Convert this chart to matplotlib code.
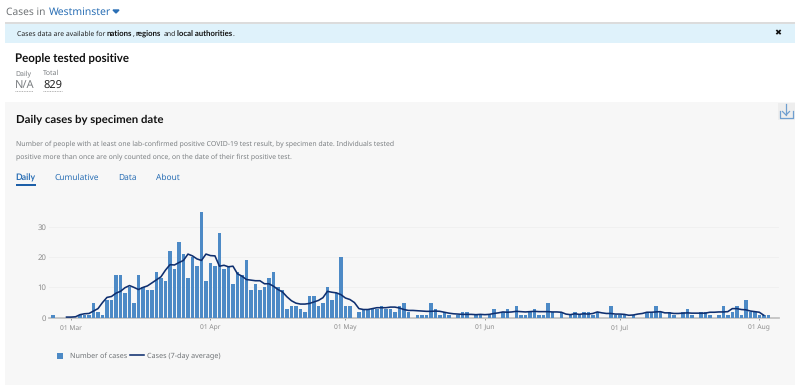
import matplotlib
matplotlib.use("Agg")
import matplotlib.pyplot as plt
import matplotlib.dates as mdates
from matplotlib.patches import Rectangle
import pandas as pd

plt.rcParams['font.family'] = ['Noto Sans', 'DejaVu Sans']
plt.rcParams['text.hinting'] = 'none'

start_date = "2020-02-26"
daily_cases = [
    1, 0, 0, 0,
    0, 0, 1, 1, 1, 5, 2, 1, 6, 6, 14, 14, 8, 10, 5, 14, 10, 9, 9, 15, 13, 12, 22, 16, 25, 21, 13, 20, 17, 35, 12,
    18, 17, 28, 16, 17, 11, 15, 14, 19, 9, 11, 9, 10, 13, 15, 10, 9, 3, 4, 4, 3, 2, 7, 7, 4, 5, 10, 6, 8, 20,
    4, 4, 0, 2, 3, 3, 3, 3, 4, 3, 3, 2, 4, 5, 2, 0, 1, 1, 1, 5, 3, 1, 2, 1, 0, 1, 2, 2, 0, 1, 1,
    0, 1, 3, 0, 2, 3, 0, 4, 1, 1, 2, 3, 1, 1, 5, 2, 0, 2, 0, 1, 2, 1, 2, 2, 1, 2, 0, 0, 4, 1,
    1, 1, 0, 1, 0, 0, 2, 2, 4, 2, 0, 2, 1, 0, 2, 3, 1, 0, 2, 2, 1, 0, 1, 4, 1, 2, 4, 1, 6, 2, 2,
    1, 1, 1,
]
avg_start_date = "2020-02-29"
avg_cases = [
    0.2,
    0.2, 0.3, 1.0, 1.3, 1.4, 2.2, 3.0, 5.0, 6.7, 7.0, 8.1, 8.7, 9.9, 10.6, 10.0, 9.3, 10.0, 10.5, 11.5, 12.5, 13.5,
    15.7, 17.5, 17.4, 18.2, 18.9, 21.0, 20.4, 19.4, 18.9, 21.0,
    20.5, 20.4, 17.0, 17.3, 16.8, 17.0, 14.5, 13.7, 12.6, 12.4, 12.2, 12.2, 11.2, 11.2, 10.4, 9.3, 8.5, 6.9, 5.6,
    4.8, 4.5, 4.5, 4.7, 5.2, 5.7, 6.6, 8.7, 8.4, 8.2, 7.6,
    6.5, 6.0, 5.0, 3.0, 2.7, 2.7, 3.0, 3.3, 3.3, 3.3, 3.5, 3.5, 3.2, 2.7, 2.4, 2.4, 2.3, 2.2, 2.1, 2.1, 2.2, 2.1,
    1.8, 1.5, 1.3, 1.2, 1.1, 1.1, 1.1, 1.0, 1.1,
    1.0, 1.1, 1.4, 1.6, 1.9, 1.8, 1.9, 2.1, 2.0, 1.9, 2.0, 2.1, 2.0, 2.0, 2.0, 1.9, 1.9, 1.8, 1.2, 1.0, 1.3, 1.1,
    1.3, 1.2, 1.4, 1.9, 1.6, 1.4, 1.4, 1.2,
    1.2, 1.1, 0.8, 0.9, 1.2, 1.4, 1.8, 1.8, 1.9, 2.0, 1.6, 1.6, 1.4, 1.4, 1.5, 1.6, 1.5, 1.5, 1.5, 1.5, 1.8, 1.8,
    1.9, 1.9, 2.0, 3.0, 3.0, 2.7, 2.6, 2.2, 2.0,
    1.8, 0.8,
]
y_ticks = [0, 10, 20, 30]
x_tick_dates = ["2020-03-01", "2020-04-01", "2020-05-01", "2020-06-01", "2020-07-01", "2020-08-01"]
x_tick_labels = ["01 Mar", "01 Apr", "01 May", "01 Jun", "01 Jul", "01 Aug"]
bar_label = "Number of cases"
line_label = "Cases (7-day average)"

dates = pd.date_range(start_date, periods=len(daily_cases))
avg_dates = pd.date_range(avg_start_date, periods=len(avg_cases))

W, H = 800, 390
fig = plt.figure(figsize=(8, 3.9), dpi=100, facecolor="white")

bg = fig.add_axes([0, 0, 1, 1], zorder=0)
bg.set_xlim(0, W)
bg.set_ylim(H, 0)
bg.axis("off")

LINK = "#2a6fb5"
GREY = "#7b7f82"
DARK = "#111111"

bg.add_patch(Rectangle((5, 102), 790, 283, fc="#f7f7f7", ec="none"))
bg.add_patch(Rectangle((5, 23), 790, 20, fc="#dff2fb", ec="none"))
bg.add_patch(Rectangle((5, 22), 790, 1.5, fc="#dcdcdc", ec="none"))
bg.add_patch(Rectangle((778, 103), 17, 17, fc="#eeeeee", ec="none"))

renderer = fig.canvas.get_renderer()


def t(x0, x1, y, s, color=DARK, bold=False, size=None):
    """Text from x0 on baseline y. Font size is given, or fitted so it ends at x1 (pixels)."""
    kw = {"family": ["Lato", "DejaVu Sans"], "fontweight": "bold"} if bold else {}
    txt = bg.text(x0, y, s, fontsize=size or 8, color=color, va="baseline", ha="left", **kw)
    if size is None:
        for _ in range(3):
            width = txt.get_window_extent(renderer).width
            txt.set_fontsize(txt.get_fontsize() * (x1 - x0) / width)
    return txt


head = t(5.5, 45, 15, "Cases in", "#6f7376").get_fontsize()
t(49, None, 15, "Westminster", LINK, size=head * 1.02)
bg.fill([113, 119, 116], [10, 10, 13], color=LINK)

ban = t(17, 105.5, 35.7, "Cases data are available for", "#222222").get_fontsize()
ban_b = t(177, 232, 36.6, "local authorities", bold=True).get_fontsize()
t(107, None, 36.6, "nations", bold=True, size=ban_b)
t(132.3, None, 35.7, ",", size=ban)
t(136, None, 36.6, "regions", bold=True, size=ban_b)
t(164, None, 35.5, "and", "#222222", size=ban)
t(232.6, None, 35.7, ".", size=ban)
bg.text(778, 33, "\u2716", fontsize=6, color=DARK, family=["DejaVu Sans"], ha="center", va="center")

t(15, 130, 62, "People tested positive", bold=True)
small = t(15, 31, 75, "Daily", GREY).get_fontsize()
t(43, None, 75, "Total", GREY, size=small)
big = t(43, 62, 88, "829", "#222222").get_fontsize()
t(15, None, 88, "N/A", GREY, size=big)
bg.plot([15, 33], [90.5, 90.5], color="#9a9a9a", lw=0.6, ls=(0, (1, 1)))
bg.plot([43, 62], [90.5, 90.5], color="#9a9a9a", lw=0.6, ls=(0, (1, 1)))

t(15.5, 163.5, 123.3, "Daily cases by specimen date", bold=True)
sub = t(15.5, 394, 145, "Number of people with at least one lab-confirmed positive COVID-19 test result, by specimen date. Individuals tested", GREY).get_fontsize()
t(15.5, None, 158.3, "positive more than once are only counted once, on the date of their first positive test.", GREY, size=sub)

tab = t(54.5, 99, 180.3, "Cumulative", LINK).get_fontsize()
t(15.5, 35.5, 180.3, "Daily", LINK, bold=True)
t(118, None, 181.3, "Data", LINK, size=tab)
t(156, None, 180.3, "About", LINK, size=tab)
bg.add_patch(Rectangle((15.5, 183.5), 20.5, 2, fc="#1d5fa8", ec="none"))

ICON = "#6f9fd0"
bg.plot([779.5, 779.5, 792.5, 792.5], [111, 118, 118, 111], color=ICON, lw=0.9)
bg.plot([786, 786], [104, 115], color=ICON, lw=0.9)
bg.plot([782.5, 786, 789.5], [111.5, 115, 111.5], color=ICON, lw=0.9)

PX_LEFT, PX_RIGHT, PX_TOP, PX_BOTTOM = 49, 779, 205, 317.7
PX_PER_DAY = (759.3 - 71.0) / 153
PX_PER_UNIT = 3.03
mar1 = mdates.date2num(pd.Timestamp("2020-03-01"))
AX_W = PX_RIGHT - PX_LEFT
AX_H = PX_BOTTOM - PX_TOP

ax = fig.add_axes([PX_LEFT / W, 1 - PX_BOTTOM / H, AX_W / W, AX_H / H], zorder=1)
ax.patch.set_alpha(0)
ax.set_xlim(mar1 + (PX_LEFT - 71.0) / PX_PER_DAY, mar1 + (PX_RIGHT - 71.0) / PX_PER_DAY)
ax.set_ylim(0, AX_H / PX_PER_UNIT)

bars = ax.bar(dates, daily_cases, width=0.76, color="#4d8ac6", label=bar_label, zorder=2)
line, = ax.plot(avg_dates, avg_cases, color="#0f2f6f", lw=1.15, label=line_label, zorder=3, solid_joinstyle="round")

for s in ["top", "right", "left"]:
    ax.spines[s].set_visible(False)
ax.spines["bottom"].set_color("#c4c4c4")
ax.spines["bottom"].set_linewidth(1.3)
ax.spines["bottom"].set_zorder(1)

ax.set_yticks(y_ticks)
ax.tick_params(axis="y", length=0, labelsize=5.6, labelcolor="#8a8a8a", pad=2)
ax.grid(axis="y", color="#f0f0f0", lw=0.7, zorder=0)
ax.set_axisbelow(True)
ax.set_xticks(mdates.date2num(pd.to_datetime(x_tick_dates)))
ax.set_xticklabels(x_tick_labels)
ax.tick_params(axis="x", length=1.5, width=0.6, color="#888888", labelsize=4.8, labelcolor="#8a8a8a", pad=3.5, direction="out")

LEG_Y = -0.31
leg1 = ax.legend(handles=[bars], loc="upper left", frameon=False,
                 bbox_to_anchor=((57 - PX_LEFT) / AX_W, LEG_Y),
                 fontsize=5.2, labelcolor="#6f7376",
                 handlelength=0.83, handletextpad=0.97, borderpad=0, borderaxespad=0, handleheight=0.9)
ax.add_artist(leg1)
leg2 = ax.legend(handles=[line], loc="upper left", frameon=False,
                 bbox_to_anchor=((130 - PX_LEFT) / AX_W, LEG_Y),
                 fontsize=5.2, labelcolor="#6f7376",
                 handlelength=1.94, handletextpad=0.42, borderpad=0, borderaxespad=0, handleheight=0.9)

fig.savefig("out.png", dpi=100, facecolor="white")
